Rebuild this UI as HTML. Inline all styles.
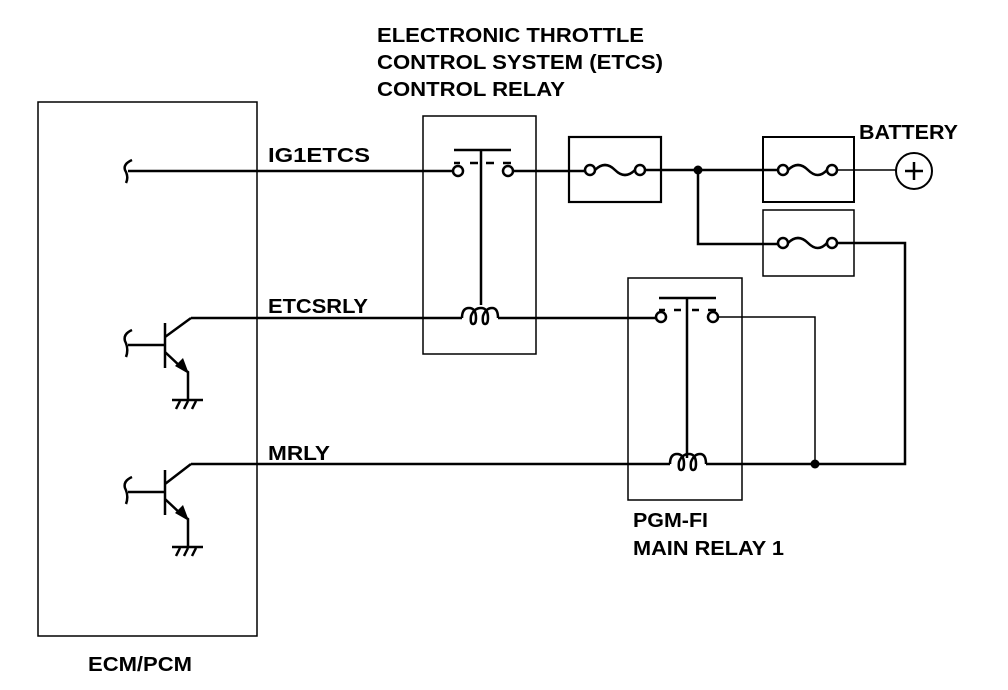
<!DOCTYPE html>
<html><head><meta charset="utf-8"><style>
html,body{margin:0;padding:0;background:#fff}
svg{display:block}
text{font-family:"Liberation Sans",Arial,sans-serif;font-weight:bold;font-size:20px;fill:#000}
</style></head><body>
<svg width="1008" height="690" viewBox="0 0 1008 690" xmlns="http://www.w3.org/2000/svg">
<g fill="none" stroke="#000" stroke-width="1.5">
<rect x="38" y="102" width="219" height="534"/>
<rect x="423" y="116" width="113" height="238"/>
<rect x="628" y="278" width="114" height="222"/>
<rect x="569" y="137" width="92" height="65" stroke-width="2.2"/>
<rect x="763" y="137" width="91" height="65" stroke-width="2"/>
<rect x="763" y="210" width="91" height="66"/>
</g>
<g fill="none" stroke="#000" stroke-width="2.5">
<path d="M128 171 H453"/>
<path d="M132 160 Q123 164 125 170 Q129 177 126 183"/>
<path d="M454 150 H511 M481 150 V305"/>
<path d="M454 163 H460 M470 163 H478 M486 163 H494 M503 163 H511"/>
<circle cx="458" cy="171" r="5" fill="#fff"/>
<circle cx="508" cy="171" r="5" fill="#fff"/>
<path d="M513 171 H585"/>
<circle cx="590" cy="170" r="5" fill="#fff"/>
<path d="M595 170 Q605 160 615 170 Q625 180 635 170"/>
<circle cx="640" cy="170" r="5" fill="#fff"/>
<path d="M645 170 H778"/>
<circle cx="783" cy="170" r="5" fill="#fff"/>
<path d="M788 170 Q798 160 808 170 Q818 180 827 170"/>
<circle cx="832" cy="170" r="5" fill="#fff"/>
<path d="M698 170 V244 H778"/>
<circle cx="783" cy="243" r="5" fill="#fff"/>
<path d="M788 243 Q798 233 808 243 Q818 253 827 243"/>
<circle cx="832" cy="243" r="5" fill="#fff"/>
<path d="M837 243 H905 V464 H815"/>
<path d="M191 318 H462 M498 318 H656"/>
<path d="M462 318 Q462 308 469 308 Q476 308 476 318 Q476 324 473 324 Q470 324 471 316 Q474 308 481 308 Q488 308 488 318 Q488 324 485 324 Q482 324 483 316 Q486 308 492 308 Q498 308 498 318"/>
<path d="M659 298 H716 M687 298 V458"/>
<path d="M659 310 H665 M674 310 H681 M692 310 H699 M708 310 H716"/>
<circle cx="661" cy="317" r="5" fill="#fff"/>
<circle cx="713" cy="317" r="5" fill="#fff"/>
<path d="M191 464 H670 M706 464 H815"/>
<path d="M670 464 Q670 454 677 454 Q684 454 684 464 Q684 470 681 470 Q678 470 679 462 Q682 454 689 454 Q696 454 696 464 Q696 470 693 470 Q690 470 691 462 Q694 454 700 454 Q706 454 706 464"/>
<circle cx="914" cy="171" r="18" stroke-width="2"/>
<path d="M905 171 H923 M914 162 V180"/>
</g>
<g fill="none" stroke="#000" stroke-width="1.5">
<path d="M837 170 H896"/>
<path d="M718 317 H815 V464"/>
</g>
<circle cx="698" cy="170" r="4.5" fill="#000"/>
<circle cx="815" cy="464" r="4.5" fill="#000"/>
<g fill="none" stroke="#000" stroke-width="2.5">
<path d="M165 323 V368 M128 345 H165 M165 337 L191 318 M165 352 L182 368 L188 372 V400 M172 400 H203"/>
<path d="M132 330 Q123 334 125 341 Q129 349 126 357"/>
<path d="M176 409 L180 401 M184 409 L188 401 M192 409 L196 401"/>
<path d="M165 470 V515 M128 492 H165 M165 484 L191 464 M165 499 L182 515 L188 519 V547 M172 547 H203"/>
<path d="M132 477 Q123 481 125 488 Q129 496 126 504"/>
<path d="M176 556 L180 548 M184 556 L188 548 M192 556 L196 548"/>
</g>
<path d="M189 374 L175 366 L183 358 Z" fill="#000"/>
<path d="M189 521 L175 513 L183 505 Z" fill="#000"/>
<text x="377" y="42" textLength="267" lengthAdjust="spacingAndGlyphs">ELECTRONIC THROTTLE</text>
<text x="377" y="69" textLength="286" lengthAdjust="spacingAndGlyphs">CONTROL SYSTEM (ETCS)</text>
<text x="377" y="96" textLength="188" lengthAdjust="spacingAndGlyphs">CONTROL RELAY</text>
<text x="268" y="162" textLength="102" lengthAdjust="spacingAndGlyphs">IG1ETCS</text>
<text x="268" y="313" textLength="100" lengthAdjust="spacingAndGlyphs">ETCSRLY</text>
<text x="268" y="460" textLength="62" lengthAdjust="spacingAndGlyphs">MRLY</text>
<text x="859" y="139" textLength="99" lengthAdjust="spacingAndGlyphs">BATTERY</text>
<text x="633" y="527" textLength="75" lengthAdjust="spacingAndGlyphs">PGM-FI</text>
<text x="633" y="555" textLength="151" lengthAdjust="spacingAndGlyphs">MAIN RELAY 1</text>
<text x="88" y="671" textLength="104" lengthAdjust="spacingAndGlyphs">ECM/PCM</text>
</svg>
</body></html>
